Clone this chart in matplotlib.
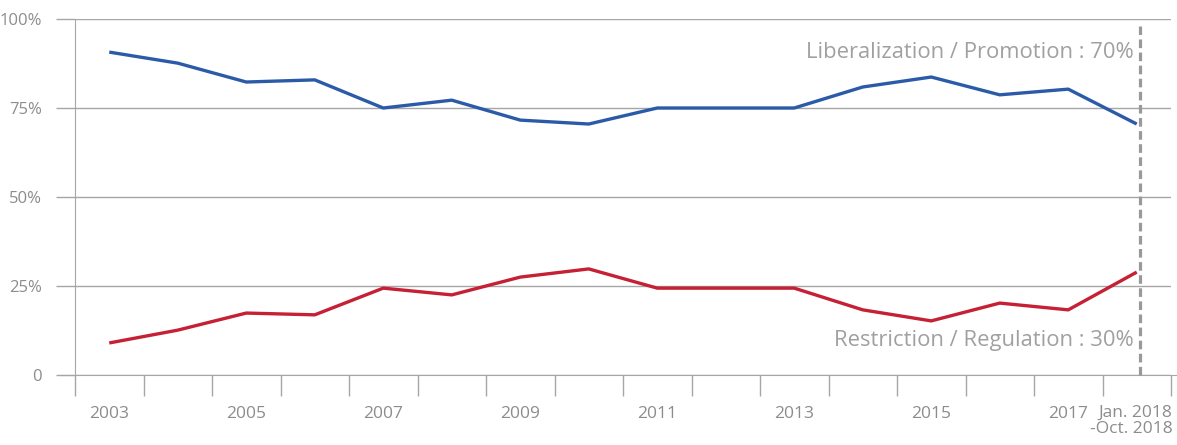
import numpy as np
import matplotlib
matplotlib.use("Agg")
import matplotlib.pyplot as plt
import matplotlib.transforms as mtransforms

plt.rcParams['font.family'] = ['Open Sans', 'DejaVu Sans']

# categories (years) and shares in percent
periods = ['2003', '2004', '2005', '2006', '2007', '2008', '2009', '2010',
           '2011', '2012', '2013', '2014', '2015', '2016', '2017',
           'Jan. 2018\n-Oct. 2018']
liberalization = [90.7, 87.6, 82.3, 82.9, 75.0, 77.2, 71.6, 70.5,
                  75.0, 75.0, 75.0, 80.9, 83.7, 78.7, 80.3, 70.5]
restriction = [9.0, 12.6, 17.4, 16.9, 24.4, 22.5, 27.5, 29.8,
               24.4, 24.4, 24.4, 18.3, 15.2, 20.2, 18.3, 28.9]
y_ticks = [0, 25, 50, 75, 100]
y_labels = ['0', '25%', '50%', '75%', '100%']

grey = '#8c8c8c'
line_grey = '#a6a6a6'

fig = plt.figure(figsize=(11.77, 4.45), dpi=100)
ax = fig.add_axes([75/1177, 1 - 375/445, (1171 - 75)/1177, (375 - 19)/445])

x = np.arange(len(periods)) + 0.5
ax.plot(x, liberalization, color='#2b5ba8', linewidth=2.4, solid_capstyle='butt', zorder=3)
ax.plot(x, restriction, color='#c52034', linewidth=2.4, solid_capstyle='butt', zorder=3)

ax.set_xlim(0, len(periods))
ax.set_ylim(0, 100)

# y axis: gridlines plus outward ticks
ax.set_yticks(y_ticks)
ax.set_yticklabels(y_labels)
ax.yaxis.grid(True, color=line_grey, linewidth=1)
ax.tick_params(axis='y', length=14, width=1, color=line_grey, labelcolor=grey,
               labelsize=12, pad=10)

# x axis: ticks between categories, labels at odd years
ax.set_xticks(np.arange(len(periods) + 1))
ax.set_xticklabels([])
ax.tick_params(axis='x', which='major', length=15, width=1, color=line_grey)
ax.set_xticks(x, minor=True)
minor_labels = [p if i % 2 == 0 and i < len(periods) - 1 else '' for i, p in enumerate(periods)]
ax.set_xticklabels(minor_labels, minor=True)
ax.tick_params(axis='x', which='minor', length=0, labelcolor=grey, labelsize=12.5, pad=22)

trans = mtransforms.blended_transform_factory(ax.transData, ax.transAxes)
ax.text(len(periods) + 0.02, -0.0835, periods[-1], transform=trans, ha='right', va='top',
        color=grey, fontsize=12.5, multialignment='right', linespacing=1.05)

for side in ['top', 'right']:
    ax.spines[side].set_visible(False)
ax.spines['left'].set_color(line_grey)
ax.spines['bottom'].set_color(line_grey)
ax.spines['bottom'].set_bounds(-0.22, len(periods) + 0.1)
ax.spines['left'].set_bounds(0, 100)

# dashed marker for latest period
ax.plot([len(periods) - 0.45, len(periods) - 0.45], [0, 98], color='#999999',
        linewidth=2.3, linestyle=(0, (2.7, 1.4)), zorder=4, clip_on=False)

ax.text(len(periods) - 0.55, 90.5, 'Liberalization / Promotion : 70%', ha='right', va='center',
        color='#a0a0a0', fontsize=15.8)
ax.text(len(periods) - 0.55, 9.7, 'Restriction / Regulation : 30%', ha='right', va='center',
        color='#a0a0a0', fontsize=15.8)

fig.savefig('out.png', dpi=100)
